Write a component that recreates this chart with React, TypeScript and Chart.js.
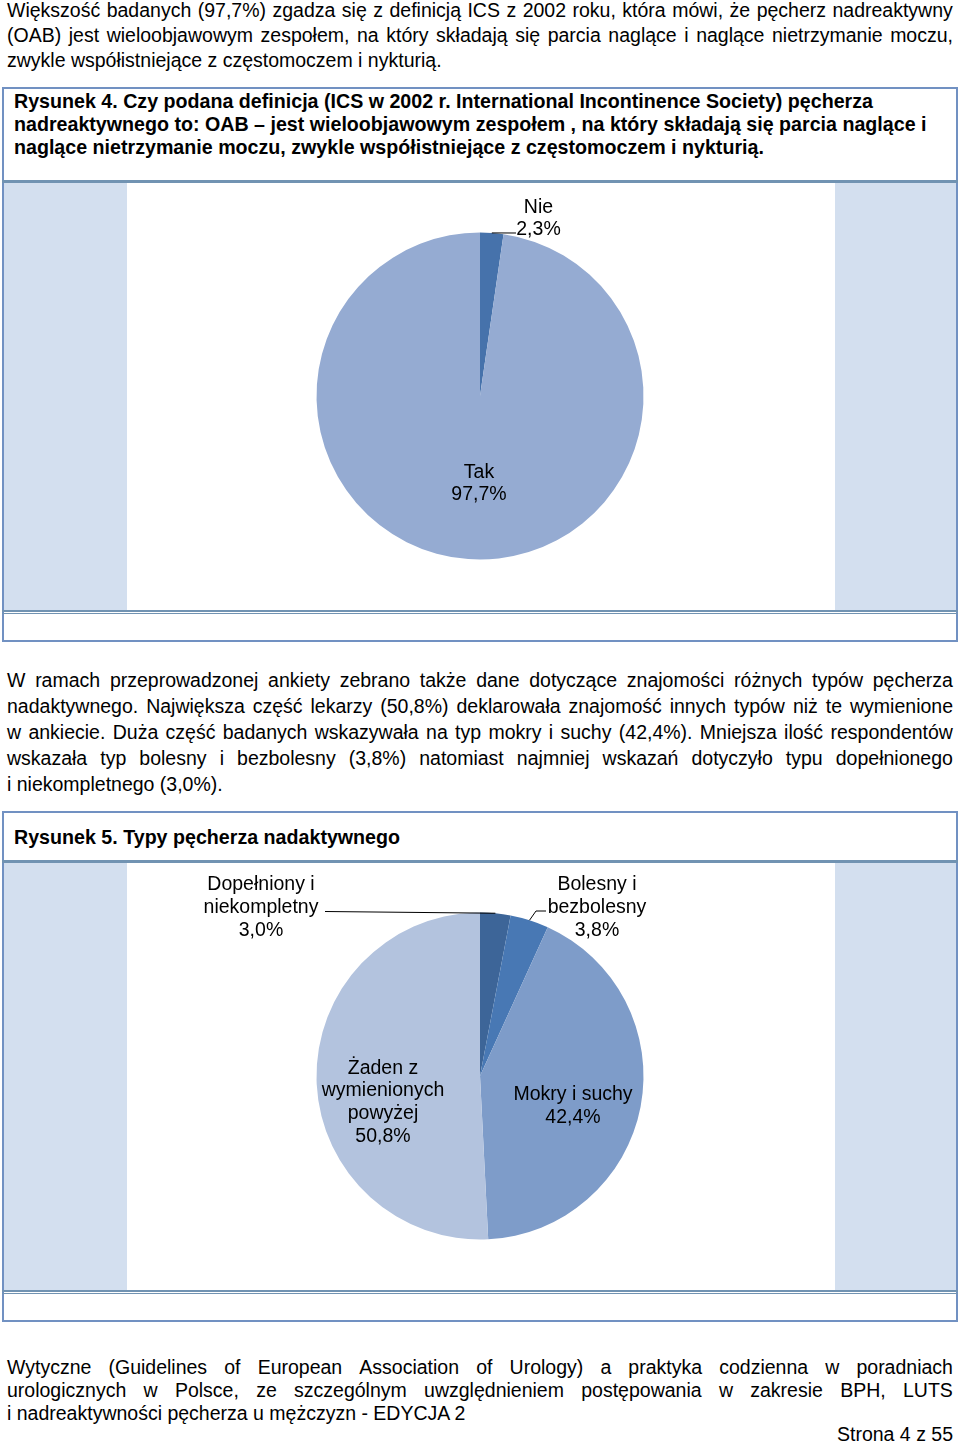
import React, { useEffect, useRef } from "react";
import { Chart, registerables } from "chart.js";

Chart.register(...registerables);

// ---------- data ----------
const fig4Categories = ["Nie", "Tak"];
const fig4LabelLines = [["Nie"], ["Tak"]];
const fig4Values = [2.3, 97.7];
const fig4Colors = ["#4672AB", "#95ABD2"];

const fig5Categories = [
  "Dopełniony i niekompletny",
  "Bolesny i bezbolesny",
  "Mokry i suchy",
  "Żaden z wymienionych powyżej",
];
const fig5LabelLines = [
  ["Dopełniony i", "niekompletny"],
  ["Bolesny i", "bezbolesny"],
  ["Mokry i suchy"],
  ["Żaden z", "wymienionych", "powyżej"],
];
const fig5Values = [3.0, 3.8, 42.4, 50.8];
const fig5Colors = ["#3D6598", "#4878B4", "#7E9CC9", "#B3C3DE"];

const fig4Title = [
  "Rysunek 4. Czy podana definicja (ICS w 2002 r. International Incontinence Society) pęcherza",
  "nadreaktywnego to: OAB – jest wieloobjawowym zespołem , na który składają się parcia naglące i",
  "naglące nietrzymanie moczu, zwykle współistniejące z częstomoczem i nykturią.",
];
const fig5Title = ["Rysunek 5. Typy pęcherza nadaktywnego"];

const para1 = [
  "Większość badanych (97,7%) zgadza się z definicją ICS z 2002 roku, która mówi, że pęcherz nadreaktywny",
  "(OAB) jest wieloobjawowym zespołem, na który składają się parcia naglące i naglące nietrzymanie moczu,",
  "zwykle współistniejące z częstomoczem i nykturią.",
];
const para2 = [
  "W ramach przeprowadzonej ankiety zebrano także dane dotyczące znajomości różnych typów pęcherza",
  "nadaktywnego. Największa część lekarzy (50,8%) deklarowała znajomość innych typów niż te wymienione",
  "w ankiecie. Duża część badanych wskazywała na typ mokry i suchy (42,4%). Mniejsza ilość respondentów",
  "wskazała typ bolesny i bezbolesny (3,8%) natomiast najmniej wskazań dotyczyło typu dopełnionego",
  "i niekompletnego (3,0%).",
];
const footer = [
  "Wytyczne (Guidelines of European Association of Urology) a praktyka codzienna w poradniach",
  "urologicznych w Polsce, ze szczególnym uwzględnieniem postępowania w zakresie BPH, LUTS",
  "i nadreaktywności pęcherza u mężczyzn - EDYCJA 2",
];
const pageLabel = "Strona 4 z 55";

// ---------- label layout (offsets relative to pie centre) ----------
type LabelPos = { dx: number; dy: number; leader?: number[][] };
const fig4Layout: LabelPos[] = [
  { dx: 58.5, dy: -188.5, leader: [[36, -163]] },
  { dx: -1, dy: 76.5 },
];
const fig5Layout: LabelPos[] = [
  { dx: -219, dy: -191, leader: [[-155, -164.5]] },
  { dx: 117, dy: -191, leader: [[56, -165], [66, -165]] },
  { dx: 93, dy: 19 },
  { dx: -97, dy: -7.5 },
];

const FONT = '"Liberation Sans", Arial, Helvetica, sans-serif';
const FS = 19.5;
const FS_BOLD = 19.65;
const fmt = (v: number) => v.toFixed(1).replace(".", ",") + "%";

const pieLabels = {
  id: "pieLabels",
  afterDatasetsDraw(chart: any, _args: any, opts: any) {
    const ctx = chart.ctx as CanvasRenderingContext2D;
    const meta = chart.getDatasetMeta(0);
    const values = chart.data.datasets[0].data as number[];
    ctx.save();
    ctx.font = `${opts.fontSize}px ${FONT}`;
    ctx.fillStyle = "#000";
    ctx.strokeStyle = "#000";
    ctx.lineWidth = 1;
    ctx.textAlign = "center";
    ctx.textBaseline = "middle";
    meta.data.forEach((arc: any, i: number) => {
      const p = arc.getProps(["x", "y", "startAngle", "endAngle", "outerRadius"], true);
      const mid = (p.startAngle + p.endAngle) / 2;
      const ax = p.x + Math.cos(mid) * p.outerRadius;
      const ay = p.y + Math.sin(mid) * p.outerRadius;
      const L: LabelPos = opts.layout[i];
      const lines = [...opts.lines[i], fmt(values[i])];
      lines.forEach((t: string, k: number) => {
        ctx.fillText(t, p.x + L.dx, p.y + L.dy + k * opts.lineHeight);
      });
      if (L.leader) {
        ctx.beginPath();
        ctx.moveTo(ax, ay);
        L.leader.forEach(([lx, ly]) => ctx.lineTo(p.x + lx, p.y + ly));
        ctx.stroke();
      }
    });
    ctx.restore();
  },
};

function PieChart(props: {
  categories: string[];
  values: number[];
  colors: string[];
  lines: string[][];
  layout: LabelPos[];
}) {
  const ref = useRef<HTMLCanvasElement | null>(null);
  useEffect(() => {
    if (!ref.current) return;
    const chart = new Chart(ref.current, {
      type: "pie",
      data: {
        labels: props.categories,
        datasets: [
          {
            data: props.values,
            backgroundColor: props.colors,
            borderWidth: 0,
          },
        ],
      },
      options: {
        animation: false,
        responsive: false,
        maintainAspectRatio: false,
        layout: { padding: { top: 49.5, bottom: 49.5 } },
        plugins: {
          legend: { display: false },
          tooltip: { enabled: false },
          pieLabels: {
            fontSize: FS,
            lineHeight: 22.6,
            lines: props.lines,
            layout: props.layout,
          },
        } as any,
      },
      plugins: [pieLabels as any],
    });
    return () => chart.destroy();
  }, []);
  return (
    <canvas
      ref={ref}
      width={954}
      height={426}
      style={{ position: "absolute", left: 0, top: 0, width: 954, height: 426 }}
    />
  );
}

const BORDER = "#7191C2";
const SEP = "#7193B2";
const PANEL = "#D3DFEF";

function Abs(p: { l: number; t: number; w: number; h: number; bg?: string; style?: any; children?: any }) {
  return (
    <div
      style={{
        position: "absolute",
        left: p.l,
        top: p.t,
        width: p.w,
        height: p.h,
        background: p.bg,
        boxSizing: "border-box",
        ...p.style,
      }}
    >
      {p.children}
    </div>
  );
}

function Figure(p: {
  top: number;
  titleTop: number;
  sepTop: number;
  bottom: number;
  title: string[];
  children: any;
}) {
  const areaTop = p.sepTop + 3;
  const areaBottom = areaTop + 427;
  return (
    <>
      <Abs l={2} t={p.top} w={956} h={p.bottom - p.top} style={{ border: `2px solid ${BORDER}` }} />
      <div
        style={{
          position: "absolute",
          left: 14,
          top: p.titleTop,
          fontWeight: "bold",
          fontSize: FS_BOLD,
          lineHeight: "23px",
          whiteSpace: "nowrap",
        }}
      >
        {p.title.map((t, i) => (
          <div key={i}>{t}</div>
        ))}
      </div>
      <Abs l={2} t={p.sepTop} w={956} h={3} bg={SEP} />
      <Abs l={4} t={areaTop} w={123} h={427} bg={PANEL} />
      <Abs l={835} t={areaTop} w={121} h={427} bg={PANEL} />
      <Abs l={3} t={areaTop} w={954} h={426}>
        {p.children}
      </Abs>
      <Abs l={2} t={areaBottom} w={956} h={2} bg={SEP} />
      <Abs l={2} t={areaBottom + 3} w={956} h={1} bg={SEP} />
    </>
  );
}

function TextBlock(p: { top: number; lines: string[]; lh: number }) {
  return (
    <div
      style={{
        position: "absolute",
        left: 7,
        top: p.top,
        width: 946,
        fontSize: FS,
        lineHeight: `${p.lh}px`,
      }}
    >
      {p.lines.map((t, i) => {
        const just = i < p.lines.length - 1;
        if (!just) {
          return (
            <div key={i} style={{ whiteSpace: "nowrap", height: p.lh }}>
              {t}
            </div>
          );
        }
        return (
          <div
            key={i}
            style={{
              display: "flex",
              justifyContent: "space-between",
              whiteSpace: "nowrap",
              height: p.lh,
            }}
          >
            {t.split(" ").map((w, k) => (
              <span key={k}>{w}</span>
            ))}
          </div>
        );
      })}
    </div>
  );
}

export default function App() {
  return (
    <div
      style={{
        position: "absolute",
        left: 0,
        top: 0,
        width: 960,
        height: 1442,
        background: "#fff",
        fontFamily: FONT,
        color: "#000",
        overflow: "hidden",
      }}
    >
      <TextBlock top={-2.5} lines={para1} lh={25.3} />
      <Figure top={87} titleTop={90} sepTop={180} bottom={642} title={fig4Title}>
        <PieChart
          categories={fig4Categories}
          values={fig4Values}
          colors={fig4Colors}
          lines={fig4LabelLines}
          layout={fig4Layout}
        />
      </Figure>
      <TextBlock top={666.5} lines={para2} lh={26} />
      <Figure top={811} titleTop={826} sepTop={860} bottom={1322} title={fig5Title}>
        <PieChart
          categories={fig5Categories}
          values={fig5Values}
          colors={fig5Colors}
          lines={fig5LabelLines}
          layout={fig5Layout}
        />
      </Figure>
      <TextBlock top={1356} lines={footer} lh={23} />
      <div
        style={{
          position: "absolute",
          right: 7,
          top: 1423,
          fontSize: FS,
          lineHeight: "23px",
          whiteSpace: "nowrap",
        }}
      >
        {pageLabel}
      </div>
    </div>
  );
}
